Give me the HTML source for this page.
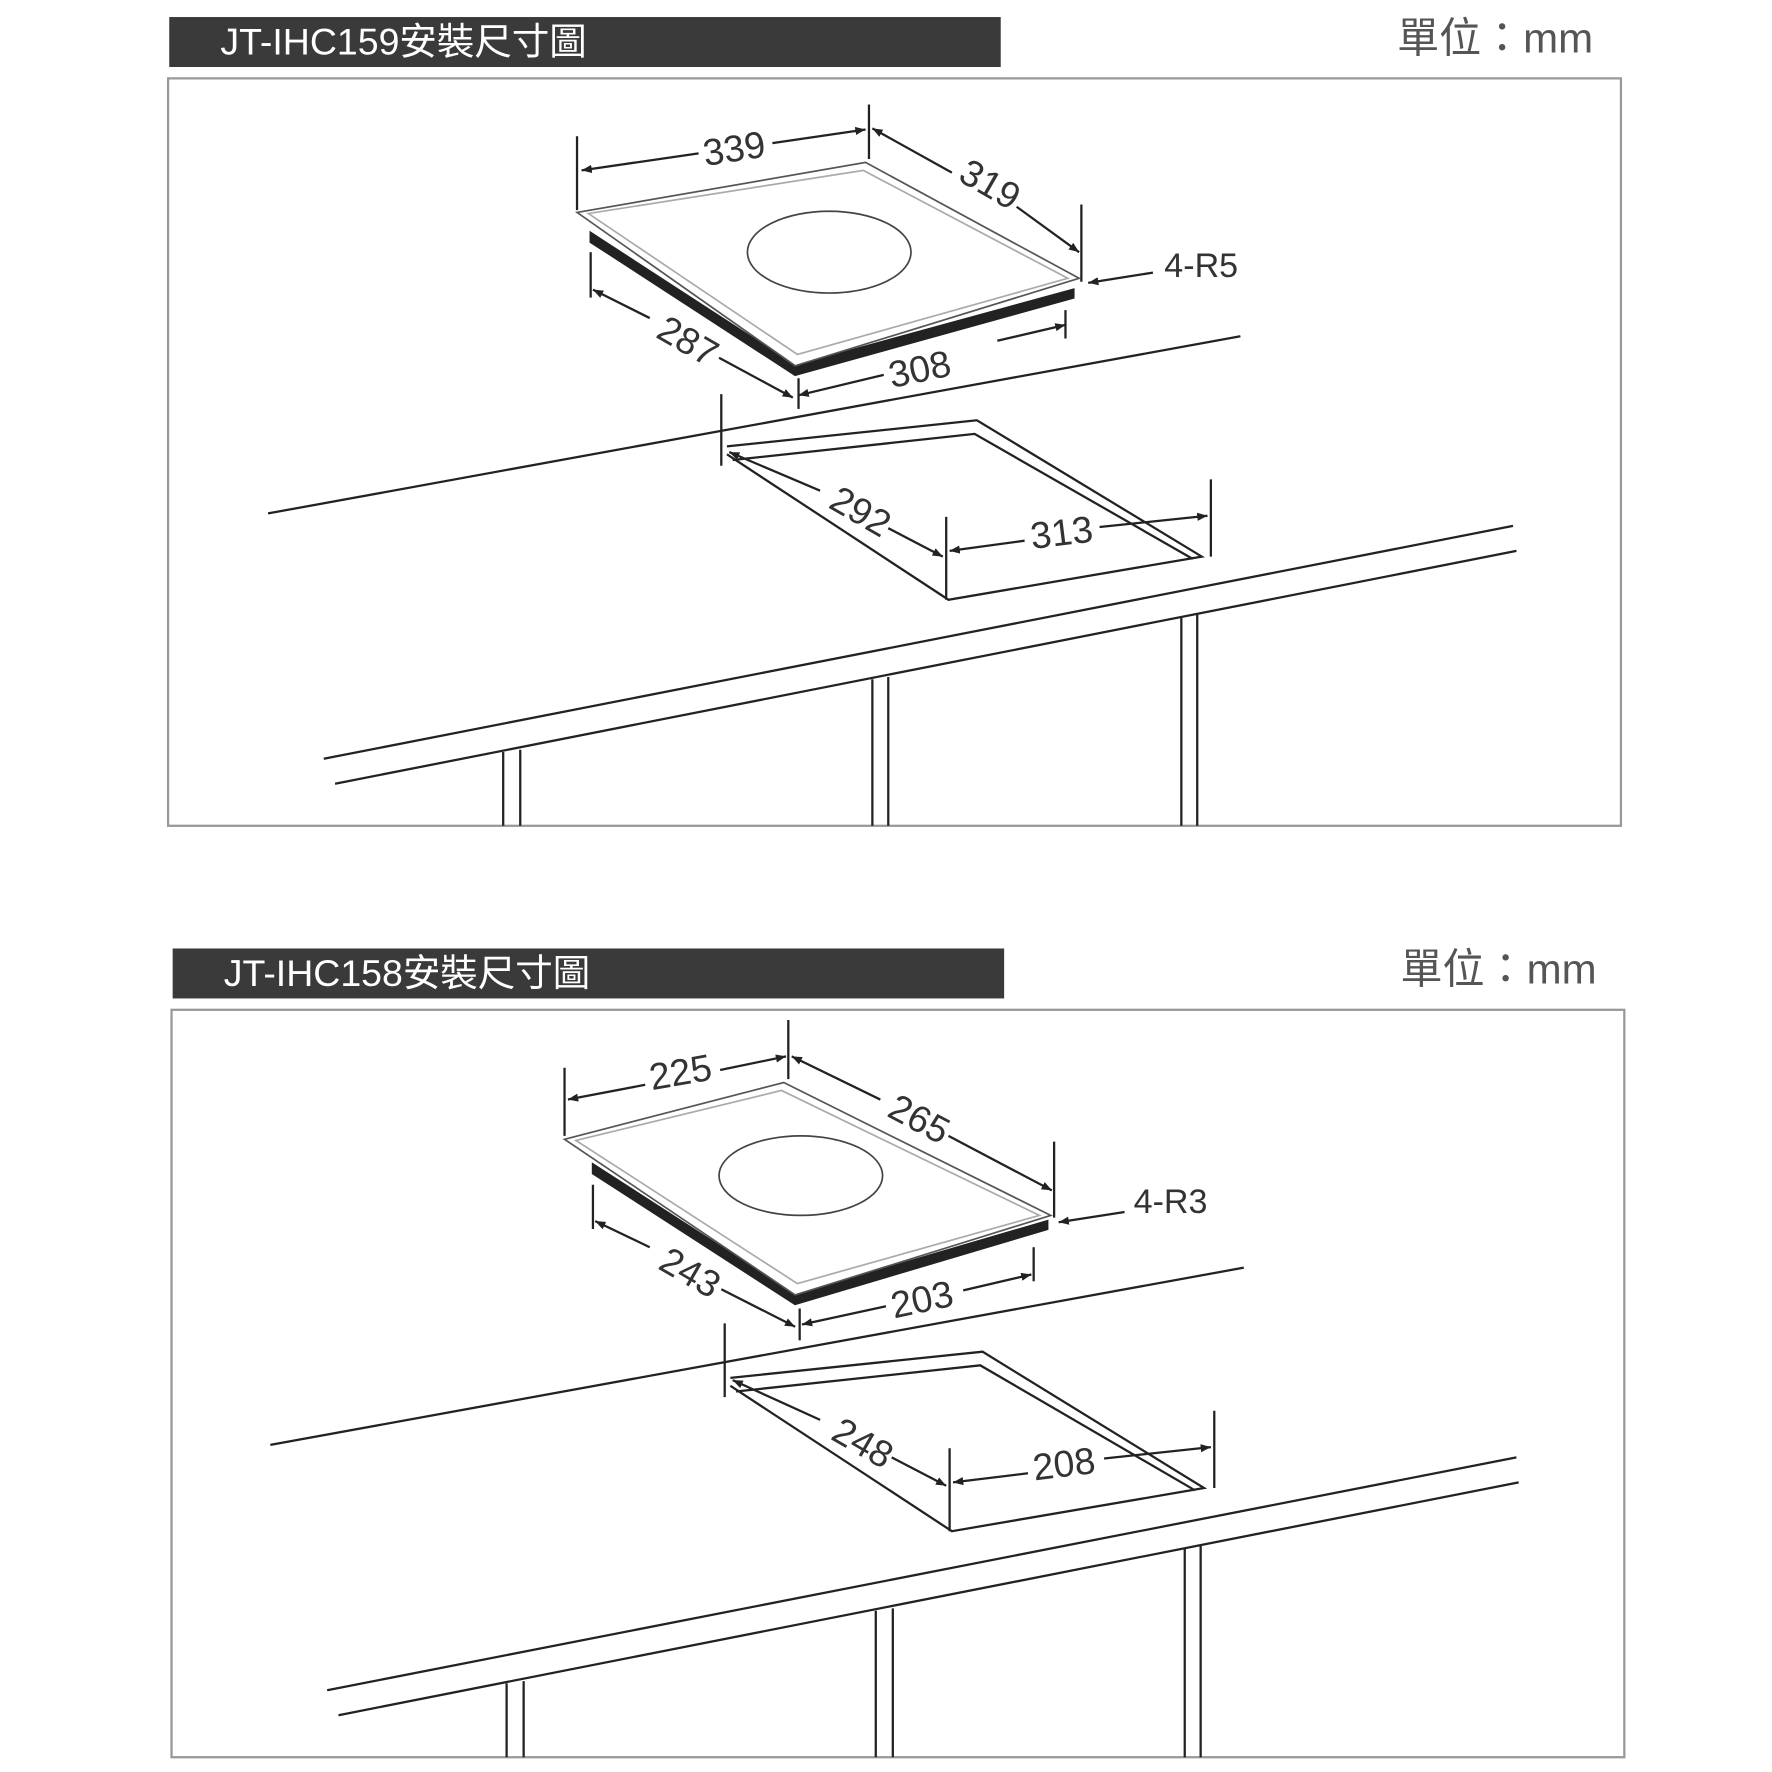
<!DOCTYPE html>
<html><head><meta charset="utf-8"><style>
html,body{margin:0;padding:0;background:#fff}
svg{display:block}
text{font-family:"Liberation Sans","Noto Sans CJK TC",sans-serif}
</style></head><body>
<svg width="1772" height="1772" viewBox="0 0 1560 1560" xmlns="http://www.w3.org/2000/svg">
<defs>
<marker id="a" viewBox="0 0 10 10" refX="10" refY="5" markerWidth="9" markerHeight="9" orient="auto-start-reverse" markerUnits="userSpaceOnUse"><path d="M0,1 L10,5 L0,9z" fill="#222"/></marker>
</defs>
<g stroke="#222" fill="none" stroke-width="2">
<!-- PANEL 1 -->
<rect x="149" y="15" width="732" height="44" fill="#3a3a3a" stroke="none"/>
<rect x="148" y="69" width="1279" height="658" stroke="#999" stroke-width="2"/>
<!-- hob -->
<path d="M520,205 L700,322 L945,255 L945,262 L700,330 L520,213z" fill="#222"/>
<polygon points="508,187 762,143 950,245 700,322" fill="#fff" stroke="#555" stroke-width="1.5"/>
<polygon points="518,188 760,150 940,245 702,312" stroke="#aaa" stroke-width="1.5"/>
<ellipse cx="730" cy="222" rx="72" ry="36" stroke="#444" stroke-width="1.5"/>
<!-- dims -->
<line x1="508" y1="120" x2="508" y2="185"/><line x1="765" y1="92" x2="765" y2="140"/>
<line x1="512" y1="150" x2="615" y2="135" marker-start="url(#a)"/><line x1="680" y1="126" x2="762" y2="114" marker-end="url(#a)"/>
<line x1="768" y1="113" x2="838" y2="152" marker-start="url(#a)"/><line x1="895" y1="182" x2="950" y2="222" marker-end="url(#a)"/>
<line x1="952" y1="180" x2="952" y2="248"/>
<line x1="1015" y1="240" x2="958" y2="249" marker-end="url(#a)"/>
<line x1="520" y1="222" x2="520" y2="262"/>
<line x1="522" y1="255" x2="572" y2="280" marker-start="url(#a)"/><line x1="633" y1="315" x2="698" y2="350" marker-end="url(#a)"/>
<line x1="703" y1="333" x2="703" y2="360"/>
<line x1="703" y1="348" x2="778" y2="330" marker-start="url(#a)"/>
<line x1="878" y1="300" x2="938" y2="286" marker-end="url(#a)"/>
<line x1="938" y1="273" x2="938" y2="298"/>
<!-- counter -->
<line x1="236" y1="452" x2="1092" y2="296"/>
<line x1="635" y1="347" x2="635" y2="410"/>
<polyline points="640,393 860,370 1058,490 835,528 640,400"/>
<polyline points="645,405 858,382 1050,492"/>
<line x1="642" y1="398" x2="722" y2="432" marker-start="url(#a)"/><line x1="782" y1="465" x2="830" y2="490" marker-end="url(#a)"/>
<line x1="833" y1="455" x2="833" y2="528"/>
<line x1="836" y1="485" x2="902" y2="476" marker-start="url(#a)"/><line x1="968" y1="464" x2="1063" y2="454" marker-end="url(#a)"/>
<line x1="1066" y1="422" x2="1066" y2="490"/>
<line x1="285" y1="668" x2="1332" y2="463"/><line x1="295" y1="690" x2="1335" y2="485"/>
<line x1="443" y1="662" x2="443" y2="727"/><line x1="458" y1="660" x2="458" y2="727"/>
<line x1="768" y1="598" x2="768" y2="727"/><line x1="782" y1="596" x2="782" y2="727"/>
<line x1="1040" y1="543" x2="1040" y2="727"/><line x1="1054" y1="541" x2="1054" y2="727"/>

<!-- PANEL 2 -->
<rect x="152" y="835" width="732" height="44" fill="#3a3a3a" stroke="none"/>
<rect x="151" y="889" width="1279" height="658" stroke="#999" stroke-width="2"/>
<path d="M522,1025 L700,1140 L922,1075 L922,1082 L700,1148 L522,1033z" fill="#222"/>
<polygon points="497,1003 690,953 925,1070 700,1140" fill="#fff" stroke="#555" stroke-width="1.5"/>
<polygon points="507,1004 688,960 915,1070 702,1130" stroke="#aaa" stroke-width="1.5"/>
<ellipse cx="705" cy="1035" rx="72" ry="35" stroke="#444" stroke-width="1.5"/>
<line x1="497" y1="940" x2="497" y2="1000"/><line x1="694" y1="898" x2="694" y2="950"/>
<line x1="500" y1="968" x2="568" y2="955" marker-start="url(#a)"/><line x1="634" y1="942" x2="692" y2="930" marker-end="url(#a)"/>
<line x1="697" y1="930" x2="775" y2="968" marker-start="url(#a)"/><line x1="835" y1="1000" x2="926" y2="1048" marker-end="url(#a)"/>
<line x1="928" y1="1005" x2="928" y2="1072"/>
<line x1="990" y1="1067" x2="932" y2="1076" marker-end="url(#a)"/>
<line x1="522" y1="1043" x2="522" y2="1082"/>
<line x1="524" y1="1075" x2="572" y2="1098" marker-start="url(#a)"/><line x1="635" y1="1135" x2="700" y2="1168" marker-end="url(#a)"/>
<line x1="704" y1="1152" x2="704" y2="1180"/>
<line x1="706" y1="1166" x2="780" y2="1150" marker-start="url(#a)"/><line x1="848" y1="1136" x2="908" y2="1122" marker-end="url(#a)"/>
<line x1="910" y1="1098" x2="910" y2="1128"/>
<line x1="238" y1="1272" x2="1095" y2="1116"/>
<line x1="638" y1="1165" x2="638" y2="1230"/>
<polyline points="643,1213 865,1190 1060,1310 838,1348 643,1220"/>
<polyline points="648,1225 863,1202 1052,1312"/>
<line x1="645" y1="1215" x2="722" y2="1250" marker-start="url(#a)"/><line x1="785" y1="1283" x2="833" y2="1308" marker-end="url(#a)"/>
<line x1="836" y1="1275" x2="836" y2="1348"/>
<line x1="839" y1="1305" x2="905" y2="1297" marker-start="url(#a)"/><line x1="972" y1="1284" x2="1066" y2="1274" marker-end="url(#a)"/>
<line x1="1069" y1="1242" x2="1069" y2="1310"/>
<line x1="288" y1="1488" x2="1335" y2="1283"/><line x1="298" y1="1510" x2="1337" y2="1305"/>
<line x1="446" y1="1482" x2="446" y2="1547"/><line x1="461" y1="1480" x2="461" y2="1547"/>
<line x1="771" y1="1418" x2="771" y2="1547"/><line x1="786" y1="1416" x2="786" y2="1547"/>
<line x1="1043" y1="1363" x2="1043" y2="1547"/><line x1="1057" y1="1361" x2="1057" y2="1547"/>
</g>
<g fill="#333" font-size="33">
<text x="194" y="48" fill="#fff" font-size="33">JT-IHC159安裝尺寸圖</text>
<text x="197" y="868" fill="#fff" font-size="33">JT-IHC158安裝尺寸圖</text>
<text x="1230" y="46" fill="#555" font-size="37">單位：mm</text>
<text x="1233" y="866" fill="#555" font-size="37">單位：mm</text>
<text x="1025" y="244" font-size="30">4-R5</text>
<text x="998" y="1068" font-size="30">4-R3</text>
<text transform="translate(648,142) rotate(-9)" text-anchor="middle">339</text>
<text transform="translate(866,172) rotate(30)" text-anchor="middle">319</text>
<text transform="translate(600,310) rotate(30)" text-anchor="middle">287</text>
<text transform="translate(812,336) rotate(-12)" text-anchor="middle">308</text>
<text transform="translate(752,460) rotate(30)" text-anchor="middle">292</text>
<text transform="translate(936,480) rotate(-7)" text-anchor="middle">313</text>
<text transform="translate(601,955) rotate(-10)" text-anchor="middle">225</text>
<text transform="translate(804,995) rotate(28)" text-anchor="middle">265</text>
<text transform="translate(602,1130) rotate(30)" text-anchor="middle">243</text>
<text transform="translate(814,1155) rotate(-12)" text-anchor="middle">203</text>
<text transform="translate(754,1280) rotate(30)" text-anchor="middle">248</text>
<text transform="translate(938,1300) rotate(-7)" text-anchor="middle">208</text>
</g>
</svg>
</body></html>
